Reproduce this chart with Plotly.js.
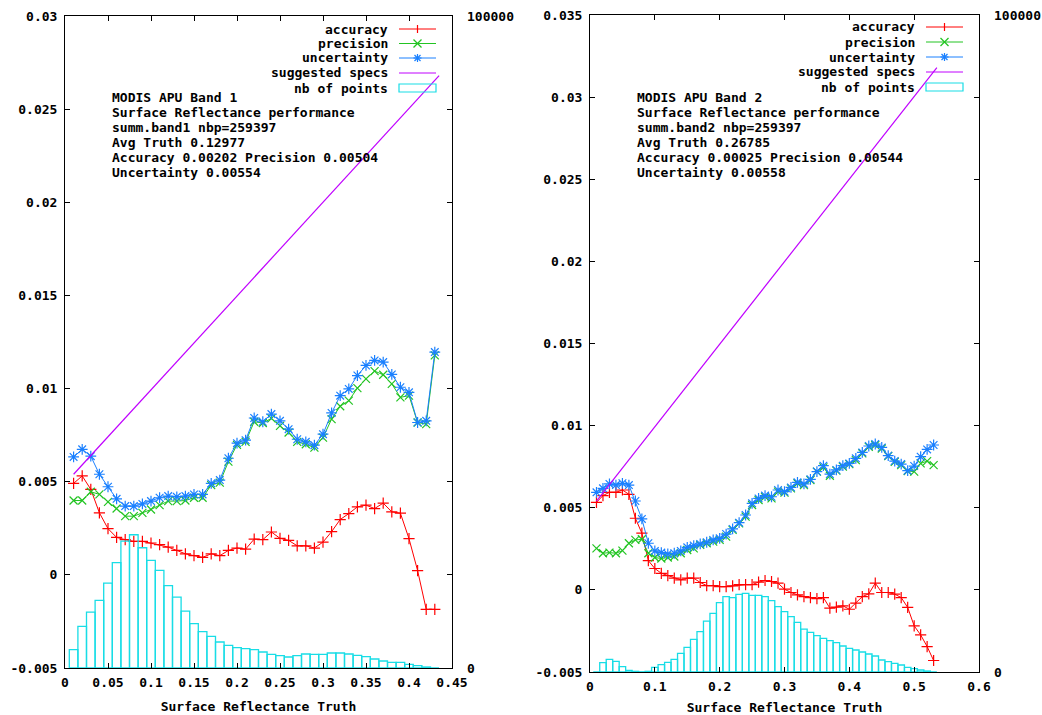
<!DOCTYPE html>
<html>
<head>
<meta charset="utf-8">
<script src="https://cdn.plot.ly/plotly-3.0.1.min.js"></script>
<style>html,body{margin:0;padding:0;background:#fff;}#chart{width:1042px;height:715px;}</style>
</head>
<body>
<div id="chart"></div>
<script>
// ---------- Band 1 data ----------
const truth1 = [0.01,0.02,0.03,0.04,0.05,0.06,0.07,0.08,0.09,0.10,0.11,0.12,0.13,0.14,0.15,0.16,0.17,0.18,0.19,0.20,0.21,0.22,0.23,0.24,0.25,0.26,0.27,0.28,0.29,0.30,0.31,0.32,0.33,0.34,0.35,0.36,0.37,0.38,0.39,0.40,0.41,0.42,0.43];
const accuracy1 = [0.00491,0.00531,0.00459,0.00333,0.00248,0.00201,0.00189,0.0018,0.0018,0.00171,0.00162,0.00149,0.00131,0.00113,0.00103,0.00094,0.00113,0.00103,0.00131,0.00144,0.00138,0.00192,0.00189,0.0023,0.00196,0.00185,0.00156,0.00156,0.00144,0.00176,0.00232,0.00297,0.00329,0.00365,0.00374,0.00356,0.00385,0.00338,0.00331,0.00194,0.00023,-0.00185,-0.00185];
const precision1 = [0.00399,0.00399,0.00446,0.00432,0.00392,0.00356,0.00315,0.00315,0.00333,0.00351,0.00374,0.00396,0.00396,0.00399,0.00414,0.00414,0.00482,0.00495,0.00608,0.00698,0.00714,0.00822,0.00815,0.0084,0.008,0.00764,0.00714,0.00701,0.00683,0.00737,0.00836,0.00905,0.00935,0.01002,0.01052,0.01094,0.01074,0.01025,0.00953,0.00962,0.00818,0.00809,0.01178];
const uncertainty1 = [0.00633,0.00674,0.00637,0.0054,0.00473,0.00408,0.00369,0.00369,0.00381,0.00396,0.00414,0.00423,0.00419,0.00423,0.00432,0.00432,0.00491,0.00509,0.00626,0.00707,0.00723,0.00842,0.00822,0.00863,0.00827,0.00782,0.00728,0.00714,0.00696,0.00755,0.00869,0.00962,0.00998,0.0107,0.01124,0.01151,0.01142,0.01076,0.01007,0.0098,0.00818,0.00827,0.01196];
const nbPoints1 = [2811,6390,8585,10373,13030,16148,19469,20440,18447,16505,14972,12622,10884,8738,6796,5570,4855,3986,3475,3117,2964,2811,2453,2095,1891,1686,1891,2146,2095,2095,2300,2300,2146,1942,1737,1380,1073,869,869,562,358,153,0];
const specX1 = [0.01, 0.435];
const specY1 = [0.0054, 0.0268];

// ---------- Band 2 data ----------
const truth2 = [0.01,0.02,0.03,0.04,0.05,0.06,0.07,0.08,0.09,0.10,0.11,0.12,0.13,0.14,0.15,0.16,0.17,0.18,0.19,0.20,0.21,0.22,0.23,0.24,0.25,0.26,0.27,0.28,0.29,0.30,0.31,0.32,0.33,0.34,0.35,0.36,0.37,0.38,0.39,0.40,0.41,0.42,0.43,0.44,0.45,0.46,0.47,0.48,0.49,0.50,0.51,0.52,0.53];
const accuracy2 = [0.00533,0.00574,0.00594,0.00594,0.00608,0.00582,0.00436,0.00345,0.00178,0.0013,0.00101,0.00087,0.00071,0.00061,0.00071,0.00071,0.00045,0.00026,0.00026,0.0002,0.0002,0.00024,0.00032,0.00032,0.00032,0.00047,0.00057,0.00051,0.00041,0.00004,-0.00016,-0.0003,-0.00041,-0.00047,-0.00053,-0.00047,-0.00111,-0.00105,-0.00097,-0.00118,-0.00081,-0.00041,-0.00024,0.00041,-0.00016,-0.00016,-0.00026,-0.00047,-0.00107,-0.00219,-0.00274,-0.00345,-0.0043];
const precision2 = [0.00253,0.00223,0.00227,0.00223,0.00239,0.00284,0.00304,0.00308,0.00223,0.00197,0.00191,0.00197,0.00203,0.00223,0.00243,0.00253,0.00274,0.00284,0.00294,0.00304,0.00324,0.00365,0.00405,0.00446,0.00517,0.00547,0.00567,0.00557,0.00598,0.00592,0.00618,0.00649,0.00638,0.00669,0.0072,0.00746,0.00695,0.00726,0.0075,0.00766,0.0079,0.00831,0.00871,0.00882,0.00861,0.00815,0.0078,0.0076,0.00724,0.0072,0.0077,0.00784,0.0076];
const uncertainty2 = [0.00594,0.00618,0.00645,0.00638,0.00649,0.00638,0.00541,0.00432,0.00284,0.00237,0.00227,0.00219,0.00223,0.00237,0.00259,0.0027,0.0028,0.0029,0.00304,0.00314,0.0034,0.00371,0.00409,0.00456,0.00527,0.00557,0.00574,0.00567,0.00608,0.00598,0.00624,0.00655,0.00645,0.00673,0.0072,0.00756,0.00705,0.0073,0.00756,0.0077,0.00801,0.00837,0.00876,0.00888,0.00867,0.00817,0.00784,0.00766,0.00726,0.00754,0.00811,0.00855,0.00882];
const nbPoints2 = [0,1420,1927,1622,811,254,101,30,101,710,1115,1470,1927,2839,3752,4969,6135,7757,8923,10546,11458,11306,11813,11965,11661,11661,11458,10850,9937,9177,8416,7554,6540,6033,5526,5121,4766,4462,3955,3600,3346,3042,2738,2434,1825,1572,1318,1065,710,507,304,152,0];
const specX2 = [0.01, 0.535];
const specY2 = [0.0054, 0.0318];

// ---------- tick labels ----------
const xTicks1 = [0,0.05,0.1,0.15,0.2,0.25,0.3,0.35,0.4,0.45];
const xTickText1 = ["0","0.05","0.1","0.15","0.2","0.25","0.3","0.35","0.4","0.45"];
const yTicks1 = [-0.005,0,0.005,0.01,0.015,0.02,0.025,0.03];
const yTickText1 = ["-0.005","0","0.005","0.01","0.015","0.02","0.025","0.03"];
const xTicks2 = [0,0.1,0.2,0.3,0.4,0.5,0.6];
const xTickText2 = ["0","0.1","0.2","0.3","0.4","0.5","0.6"];
const yTicks2 = [-0.005,0,0.005,0.01,0.015,0.02,0.025,0.03,0.035];
const yTickText2 = ["-0.005","0","0.005","0.01","0.015","0.02","0.025","0.03","0.035"];
const y2Ticks = [0,100000];
const y2TickText = ["0","100000"];

const legendNames = ["accuracy","precision","uncertainty","suggested specs","nb of points"];
const infoLines1 = ["MODIS APU Band 1","Surface Reflectance performance","summ.band1 nbp=259397","Avg Truth 0.12977","Accuracy 0.00202 Precision 0.00504","Uncertainty 0.00554"];
const infoLines2 = ["MODIS APU Band 2","Surface Reflectance performance","summ.band2 nbp=259397","Avg Truth 0.26785","Accuracy 0.00025 Precision 0.00544","Uncertainty 0.00558"];

// ---------- styles ----------
const RED = "#ff0000", GREEN = "#22c422", BLUE = "#1a80ff", MAG = "#c000ff", CYAN = "#18dde6";
const FONT = {family: "DejaVu Sans Mono, Liberation Mono, monospace", size: 13, color: "#000", weight: "bold"};
const W = 1042, H = 715;
const px = v => v / W, py = v => 1 - v / H;

function panel(xa, ya, ya2, xs, acc, prec, unc, nb, sx, sy) {
  return [
    {x: xs, y: acc, xaxis: xa, yaxis: ya, type: "scatter", mode: "lines+markers",
     line: {color: RED, width: 1}, marker: {symbol: "cross-thin", size: 8, line: {color: RED, width: 1.2}}},
    {x: xs, y: prec, xaxis: xa, yaxis: ya, type: "scatter", mode: "lines+markers",
     line: {color: GREEN, width: 1}, marker: {symbol: "x-thin", size: 8, line: {color: GREEN, width: 1.2}}},
    {x: xs, y: unc, xaxis: xa, yaxis: ya, type: "scatter", mode: "lines+markers",
     line: {color: BLUE, width: 1}, marker: {symbol: "asterisk", size: 9, line: {color: BLUE, width: 1.2}}},
    {x: sx, y: sy, xaxis: xa, yaxis: ya, type: "scatter", mode: "lines", line: {color: MAG, width: 1.2}},
    {x: xs, y: nb, xaxis: xa, yaxis: ya2, type: "bar", width: 0.01,
     marker: {color: "rgba(0,0,0,0)", line: {color: CYAN, width: 1.3}}}
  ];
}

const data = [
  ...panel("x", "y", "y2", truth1, accuracy1, precision1, uncertainty1, nbPoints1, specX1, specY1),
  ...panel("x2", "y3", "y4", truth2, accuracy2, precision2, uncertainty2, nbPoints2, specX2, specY2)
];

const axBase = {showline: true, linecolor: "#000", linewidth: 1, ticks: "inside", ticklen: 5,
  tickcolor: "#000", tickwidth: 1, showgrid: false, zeroline: false, tickfont: FONT, fixedrange: true};

const layout = {
  width: W, height: H, margin: {l: 0, r: 0, t: 0, b: 0},
  paper_bgcolor: "#fff", plot_bgcolor: "#fff", showlegend: false, hovermode: false, font: FONT,
  bargap: 0,
  xaxis: {...axBase, domain: [65/W, 452/W], range: [0, 0.45], tickmode: "array", tickvals: xTicks1, ticktext: xTickText1,
    mirror: "ticks", anchor: "y", ticklabelstandoff: 2, title: {text: "Surface Reflectance Truth", font: FONT, standoff: 13}},
  yaxis: {...axBase, domain: [47/H, 699/H], range: [-0.005, 0.03], tickmode: "array", tickvals: yTicks1, ticktext: yTickText1,
    mirror: "ticks", anchor: "x", ticklabelstandoff: 4},
  yaxis2: {...axBase, overlaying: "y", side: "right", anchor: "x", range: [0, 100000], tickmode: "array",
    tickvals: y2Ticks, ticktext: y2TickText, ticks: "", showline: false, ticklabelstandoff: 14},
  xaxis2: {...axBase, domain: [590/W, 979/W], range: [0, 0.6], tickmode: "array", tickvals: xTicks2, ticktext: xTickText2,
    mirror: "ticks", anchor: "y3", ticklabelstandoff: 2, title: {text: "Surface Reflectance Truth", font: FONT, standoff: 13}},
  yaxis3: {...axBase, domain: [43/H, 700/H], range: [-0.005, 0.035], tickmode: "array", tickvals: yTicks2, ticktext: yTickText2,
    mirror: "ticks", anchor: "x2", ticklabelstandoff: 4},
  yaxis4: {...axBase, overlaying: "y3", side: "right", anchor: "x2", range: [0, 100000], tickmode: "array",
    tickvals: y2Ticks, ticktext: y2TickText, ticks: "", showline: false, ticklabelstandoff: 14},
  annotations: [], shapes: []
};

// info text blocks
function addInfo(lines, xLeft) {
  const rows = [98, 112.5, 127, 142, 157, 172];
  lines.forEach((t, i) => layout.annotations.push({xref: "paper", yref: "paper", x: px(xLeft), y: py(rows[i]),
    xanchor: "left", yanchor: "middle", text: t, showarrow: false, font: FONT}));
}
addInfo(infoLines1, 110);
addInfo(infoLines2, 635);

// custom legends (text on the left, sample on the right, as in the original)
function addLegend(textRight, sx0, sx1, rows) {
  const cx = (sx0 + sx1) / 2, s = 4;
  const colors = [RED, GREEN, BLUE, MAG];
  legendNames.forEach((name, i) => {
    layout.annotations.push({xref: "paper", yref: "paper", x: px(textRight), y: py(rows[i]),
      xanchor: "right", yanchor: "middle", text: name, showarrow: false, font: FONT});
    if (i < 4) {
      layout.shapes.push({type: "line", xref: "paper", yref: "paper", x0: px(sx0), x1: px(sx1), y0: py(rows[i]), y1: py(rows[i]),
        line: {color: colors[i], width: 1}});
    }
  });
  const c = rows;
  const seg = (x0, y0, x1, y1, col) => layout.shapes.push({type: "line", xref: "paper", yref: "paper",
    x0: px(x0), y0: py(y0), x1: px(x1), y1: py(y1), line: {color: col, width: 1.2}});
  seg(cx, c[0] - s, cx, c[0] + s, RED);
  seg(cx - s, c[1] - s, cx + s, c[1] + s, GREEN); seg(cx - s, c[1] + s, cx + s, c[1] - s, GREEN);
  seg(cx, c[2] - s, cx, c[2] + s, BLUE); seg(cx - s, c[2], cx + s, c[2], BLUE);
  seg(cx - 3, c[2] - 3, cx + 3, c[2] + 3, BLUE); seg(cx - 3, c[2] + 3, cx + 3, c[2] - 3, BLUE);
  layout.shapes.push({type: "rect", xref: "paper", yref: "paper", x0: px(sx0), x1: px(sx1), y0: py(c[4] - 4), y1: py(c[4] + 4),
    line: {color: CYAN, width: 1.2}, fillcolor: "rgba(0,0,0,0)"});
}
addLegend(390, 399, 436, [29, 43.5, 58, 73, 88]);
addLegend(917, 926, 963, [27, 42, 57, 72, 87]);

Plotly.newPlot("chart", data, layout, {staticPlot: true, displayModeBar: false});
</script>
</body>
</html>
